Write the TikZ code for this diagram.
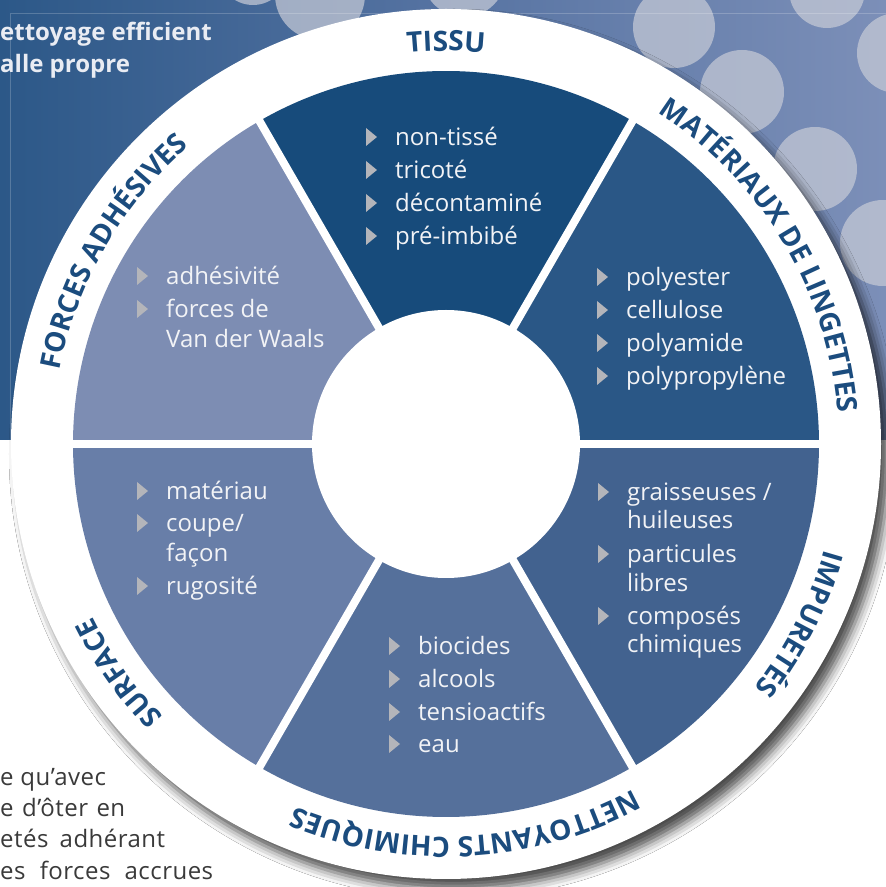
\documentclass[tikz,border=0pt]{standalone}
\usepackage{fontspec}
\setmainfont{Open Sans}
\usetikzlibrary{decorations.text,shadows.blur}
\definecolor{cTissu}{HTML}{174B7B}
\definecolor{cMat}{HTML}{2A5786}
\definecolor{cImp}{HTML}{42628F}
\definecolor{cNet}{HTML}{55709B}
\definecolor{cSurf}{HTML}{687EA8}
\definecolor{cForce}{HTML}{7D8DB3}
\definecolor{lblblue}{HTML}{1B4C7E}
\definecolor{itemwhite}{HTML}{F2F3F6}
\definecolor{bulgray}{HTML}{B4B5BA}
\definecolor{bgleft}{HTML}{2C5888}
\definecolor{bgmid}{HTML}{5673A2}
\definecolor{bgright}{HTML}{7C8FB8}
\definecolor{dotc}{HTML}{C6CAD6}
\definecolor{bodygray}{HTML}{3A3A3A}
\definecolor{headwhite}{HTML}{E9ECF3}
\newcommand{\lblfont}{\fontsize{28}{28}\selectfont\bfseries\color{lblblue}}
\newcommand{\bitem}[4]{%
  \node[itemtext] (#1) at (#2,#3) {#4};
  \fill[bulgray] ({#2-29},{#3}) -- ({#2-29},{#3+18}) -- ({#2-18},{#3+9}) -- cycle;}
\newcommand{\arclabel}[3]{%
  \path[decorate, decoration={text along path, text align=center, text={|\lblfont|#3}}]
    (C) ++({#1+#2}:393) arc[start angle={#1+#2}, end angle={#1-#2}, radius=393];}
\begin{document}
\begin{tikzpicture}[x=1pt,y=1pt,
  itemtext/.style={inner sep=0pt, anchor=base west, text=itemwhite, font=\fontsize{24}{28}\selectfont},
  headtext/.style={inner sep=0pt, anchor=base west, text=headwhite, font=\fontsize{24}{28}\selectfont\bfseries},
  bodytext/.style={inner sep=0pt, anchor=base west, text=bodygray, font=\fontsize{24}{28}\selectfont\addfontfeatures{LetterSpace=2}}]
\useasboundingbox (0,0) rectangle (886,887);
\fill[white] (0,0) rectangle (886,887);
% top background
\begin{scope}
\clip (0,447) rectangle (886,887);
\shade[left color=bgleft, right color=bgright, middle color=bgmid] (0,447) rectangle (886,887);
\foreach \x/\y/\r in {674/860/41, 827/897/38, 742/795/42, 897/834/40, 815/718/42, 883/644/43, 464/912/42, 320/892/45, 253/917/35}
  \fill[dotc, opacity=0.72] (\x,\y) circle[radius=\r];
\draw[white, opacity=0.2, line width=0.8pt] (10,447) -- (10,874) -- (886,874);
\end{scope}
\node[headtext] (h1) at (0,846) {ettoyage efficient};
\node[headtext] (h2) at (0,814) {alle propre};
% bottom-left text
\node[bodytext] (b1) at (0,101) {e qu’avec};
\node[bodytext] (b2) at (0,70) {\makebox[125pt][s]{e d’ôter en}};
\node[bodytext] (b3) at (0,39) {\makebox[165pt][s]{etés adhérant}};
\node[bodytext] (b4) at (0,8) {\makebox[213pt][s]{es forces accrues}};
% wheel
\coordinate (C) at (446,443);
\fill[white, blur shadow={shadow xshift=8pt, shadow yshift=-10pt, shadow blur radius=10pt, shadow opacity=70}] (C) circle[radius=435];
\foreach \a/\c in {60/cTissu, 0/cMat, -60/cImp, -120/cNet, 180/cSurf, 120/cForce}
  \fill[\c] (C) -- ++(\a:373) arc[start angle=\a, end angle=\a+60, radius=373] -- cycle;
\foreach \a in {0,60,...,300}
  \draw[white, line width=8pt] (C) -- ++(\a:380);
\fill[white] (C) circle[radius=134];
% ring labels
\arclabel{90}{20}{TISSU}
\arclabel{31}{29}{MATÉRIAUX DE LINGETTES}
\arclabel{-27}{20}{IMPURETÉS}
\arclabel{273}{29}{NETTOYANTS CHIMIQUES}
\arclabel{215}{20}{SURFACE}
\arclabel{150}{25}{FORCES ADHÉSIVES}
% TISSU
\bitem{t1}{395}{741}{non-tissé}
\bitem{t2}{395}{708}{tricoté}
\bitem{t3}{395}{675}{décontaminé}
\bitem{t4}{395}{642}{pré-imbibé}
% MATERIAUX
\bitem{m1}{626}{601}{polyester}
\bitem{m2}{626}{568}{cellulose}
\bitem{m3}{626}{535}{polyamide}
\bitem{m4}{626}{502}{polypropylène}
% FORCES
\bitem{f1}{166}{602}{adhésivité}
\bitem{f2}{166}{569}{forces de}
\node[itemtext] (f2b) at (166,539) {Van der Waals};
% SURFACE
\bitem{s1}{166}{387}{matériau}
\bitem{s2}{166}{355}{coupe/}
\node[itemtext] (s2b) at (166,325) {façon};
\bitem{s3}{166}{292}{rugosité}
% NETTOYANTS
\bitem{n1}{418}{232}{biocides}
\bitem{n2}{418}{199}{alcools}
\bitem{n3}{418}{166}{tensioactifs}
\bitem{n4}{418}{134}{eau}
% IMPURETES
\bitem{i1}{627}{386}{graisseuses /}
\node[itemtext] (i1b) at (627,358) {huileuses};
\bitem{i2}{627}{324}{particules}
\node[itemtext] (i2b) at (627,295) {libres};
\bitem{i3}{627}{262}{composés}
\node[itemtext] (i3b) at (627,234) {chimiques};
\end{tikzpicture}
\end{document}
